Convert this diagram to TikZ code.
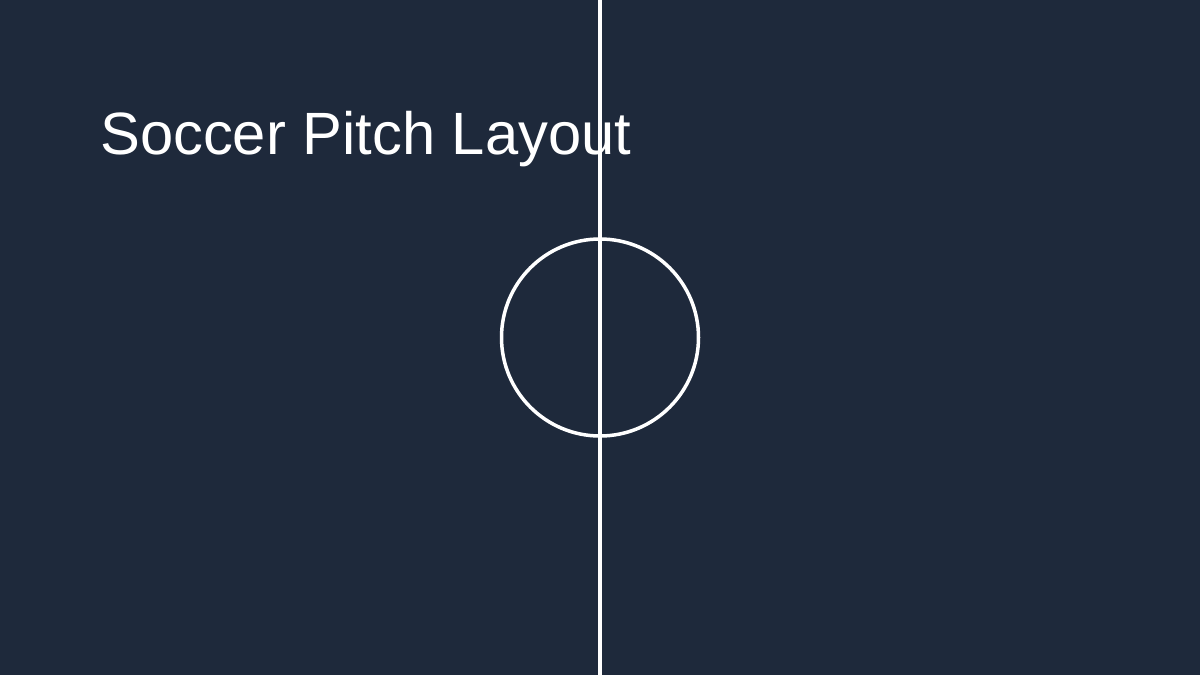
\documentclass[tikz,border=0pt]{standalone}
\usepackage{fontspec}
\setmainfont{Liberation Sans}
\definecolor{bgc}{HTML}{1E293B}
\begin{document}
\begin{tikzpicture}[x=1bp,y=-1bp,
  pitchline/.style={draw=white,line width=3.5bp},
  titletext/.style={text=white,inner sep=0pt,anchor=base west,font=\fontsize{59.7bp}{72bp}\selectfont}]
\fill[bgc] (0,0) rectangle (1200,675);
\useasboundingbox (0,0) rectangle (1200,675);
\node[titletext] (title) at (100,155) {Soccer Pitch Layout};
\coordinate (top) at (600,0);
\coordinate (bottom) at (600,675);
\coordinate (centre) at (600,337.5);
\draw[pitchline] (top) -- (bottom);
\draw[pitchline] (centre) circle[radius=98.5];
\end{tikzpicture}
\end{document}
